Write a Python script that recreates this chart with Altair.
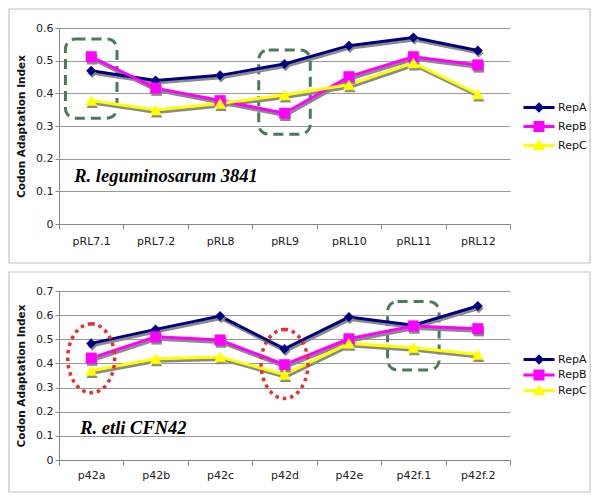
import altair as alt
import pandas as pd

# ---------------- data ----------------
series = ["RepA", "RepB", "RepC"]
colors = ["#000080", "#FF00FF", "#FFFF00"]

top_cats = ["pRL7.1", "pRL7.2", "pRL8", "pRL9", "pRL10", "pRL11", "pRL12"]
top_repA = [0.469, 0.439, 0.455, 0.490, 0.546, 0.571, 0.531]
top_repB = [0.512, 0.416, 0.378, 0.339, 0.451, 0.512, 0.487]
top_repC = [0.378, 0.349, 0.369, 0.395, 0.426, 0.493, 0.398]

bot_cats = ["p42a", "p42b", "p42c", "p42d", "p42e", "p42f.1", "p42f.2"]
bot_repA = [0.483, 0.541, 0.596, 0.460, 0.592, 0.558, 0.638]
bot_repB = [0.422, 0.510, 0.497, 0.395, 0.502, 0.555, 0.544]
bot_repC = [0.370, 0.419, 0.427, 0.354, 0.483, 0.465, 0.437]

top_ticks = [0, 0.1, 0.2, 0.3, 0.4, 0.5, 0.6]
bot_ticks = [0, 0.1, 0.2, 0.3, 0.4, 0.5, 0.6, 0.7]

# annotations (dashed boxes / dotted ellipses), in data units
top_box_cats = ["pRL7.1", "pRL9"]
top_box_lo = [0.324, 0.275]
top_box_hi = [0.566, 0.533]
bot_box_cats = ["p42f.1"]
bot_box_lo = [0.373]
bot_box_hi = [0.656]
bot_ell_cats = ["p42a", "p42d"]
bot_ell_mid = [0.421, 0.398]

top_label = "R. leguminosarum 3841"
bot_label = "R. etli CFN42"

marker_shapes = ["diamond", "square", "triangle-up"]
marker_sizes = [90, 110, 130]
legend_paths = [
    "M-3.1,-0.3H3.1V0.3H-3.1Z M0,-1.05L1.05,0L0,1.05L-1.05,0Z",
    "M-3.1,-0.3H3.1V0.3H-3.1Z M-1.1,-1.1H1.1V1.1H-1.1Z",
    "M-3.1,-0.3H3.1V0.3H-3.1Z M0,-1.25L1.25,0.95H-1.25Z",
]
ellipse_path = "M0,-1A0.68,1,0,1,1,0,1A0.68,1,0,1,1,0,-1Z"

FONT = "DejaVu Sans"
W = 451


def make_df(cats, a, b, c):
    rows = []
    for s, vals in zip(series, [a, b, c]):
        for cat, v in zip(cats, vals):
            rows.append({"cat": cat, "rep": s, "val": v})
    return pd.DataFrame(rows)


def panel(cats, a, b, c, ticks, height, label, label_y, label_dx,
          box_cats, box_lo, box_hi, ell_cats, ell_mid,
          frame_bottom, x_label_pad, legend_y, legend_row_pad):
    df = make_df(cats, a, b, c)
    ymax = ticks[-1]
    xscale = alt.Scale(paddingInner=0, paddingOuter=0)
    yscale = alt.Scale(domain=[0, ymax], nice=False, zero=True)
    xaxis = alt.Axis(title=None, tickBand="extent", tickSize=5, labelPadding=x_label_pad,
                     labelAngle=0, domainColor="#888888", tickColor="#888888",
                     labelFont=FONT, labelFontSize=11, labelColor="#222222", grid=False)
    yaxis = alt.Axis(title="Codon Adaptation Index", values=ticks, format=".1~f",
                     tickSize=4, labelPadding=2, domainColor="#888888", tickColor="#888888",
                     gridColor="#999999", grid=True, labelFont=FONT, labelFontSize=11,
                     labelColor="#222222", titleFont=FONT, titleFontSize=10.5,
                     titleFontWeight="bold", titleColor="#111111", titlePadding=9)
    X = alt.X("cat:N", sort=cats, bandPosition=0.5, scale=xscale, axis=xaxis)
    Xb = alt.X("cat:N", sort=cats, scale=xscale, axis=xaxis)
    Y = alt.Y("val:Q", scale=yscale, axis=yaxis)
    cscale = alt.Scale(domain=series, range=colors)

    frame = alt.Chart(alt.Data(values=[{}])).mark_rect(
        fillOpacity=0, stroke="#c4c4c4", strokeWidth=1.2
    ).encode(x=alt.value(-50), x2=alt.value(531), y=alt.value(-19), y2=alt.value(frame_bottom))

    base = alt.Chart(df)
    shadow_line = base.mark_line(color="#8a8a8a", strokeWidth=3, xOffset=1, yOffset=2.5).encode(
        x=X, y=Y, detail="rep:N")

    lines = []
    pts = []
    for s, col, shp, sz in zip(series, colors, marker_shapes, marker_sizes):
        sub = base.transform_filter(alt.datum.rep == s)
        lines.append(sub.mark_line(strokeWidth=3, color=col).encode(x=X, y=Y))
        pts.append(sub.mark_point(shape=shp, size=sz, filled=True, opacity=1, color="#8a8a8a",
                                  xOffset=1, yOffset=2.5).encode(x=X, y=Y))
        pts.append(sub.mark_point(shape=shp, size=sz, filled=True, opacity=1, color=col,
                                  stroke=col, strokeWidth=0.5).encode(x=X, y=Y))

    leg = alt.Legend(title=None, orient="none", legendX=474.5, legendY=legend_y,
                     symbolSize=100, symbolStrokeWidth=0, labelOffset=13.5,
                     rowPadding=legend_row_pad, labelFont=FONT, labelFontSize=11,
                     labelColor="#111111", padding=0)
    legend_layer = base.transform_filter("false").mark_point(filled=True, opacity=1).encode(
        x=X, y=Y,
        color=alt.Color("rep:N", scale=cscale, legend=leg),
        shape=alt.Shape("rep:N", scale=alt.Scale(domain=series, range=legend_paths), legend=leg),
    )

    bdf = pd.DataFrame({"cat": box_cats, "lo": box_lo, "hi": box_hi})
    boxes = alt.Chart(bdf).mark_bar(
        width={"band": 0.8}, fillOpacity=0, stroke="#4a7a5a", strokeWidth=3,
        strokeDash=[10, 6], cornerRadius=10
    ).encode(x=Xb, y=alt.Y("lo:Q", scale=yscale, axis=yaxis), y2="hi:Q")

    layers = [frame, boxes, shadow_line] + lines + pts + [legend_layer]

    if ell_cats:
        edf = pd.DataFrame({"cat": ell_cats, "val": ell_mid})
        ell = alt.Chart(edf).mark_point(
            shape=ellipse_path, size=4760, filled=False, stroke="#e53030", strokeWidth=3.5,
            strokeDash=[3.5, 4], opacity=1
        ).encode(x=X, y=Y)
        layers.append(ell)

    tdf = pd.DataFrame({"cat": [cats[0]], "val": [label_y], "txt": [label]})
    txt = alt.Chart(tdf).mark_text(
        font="Liberation Serif", fontStyle="italic", fontWeight="bold", fontSize=18.5,
        align="left", baseline="middle", dx=label_dx, color="#000000"
    ).encode(x=X, y=Y, text="txt:N")
    layers.append(txt)

    return alt.layer(*layers).properties(width=W, height=height)


top = panel(top_cats, top_repA, top_repB, top_repC, top_ticks, 196, top_label, 0.147, -17,
            top_box_cats, top_box_lo, top_box_hi, [], [], 235, 6, 74, 7)
bottom = panel(bot_cats, bot_repA, bot_repB, bot_repC, bot_ticks, 169, bot_label, 0.133, -11,
               bot_box_cats, bot_box_lo, bot_box_hi, bot_ell_cats, bot_ell_mid, 201, 4, 63, 3.5)

chart = alt.vconcat(top, bottom, spacing=7).resolve_scale(
    x="independent", y="independent"
).resolve_legend(color="independent", shape="independent").properties(
    padding=0, background="white"
).configure_view(stroke=None)

chart.save("out.html", embed_options={"renderer": "svg", "actions": False})
